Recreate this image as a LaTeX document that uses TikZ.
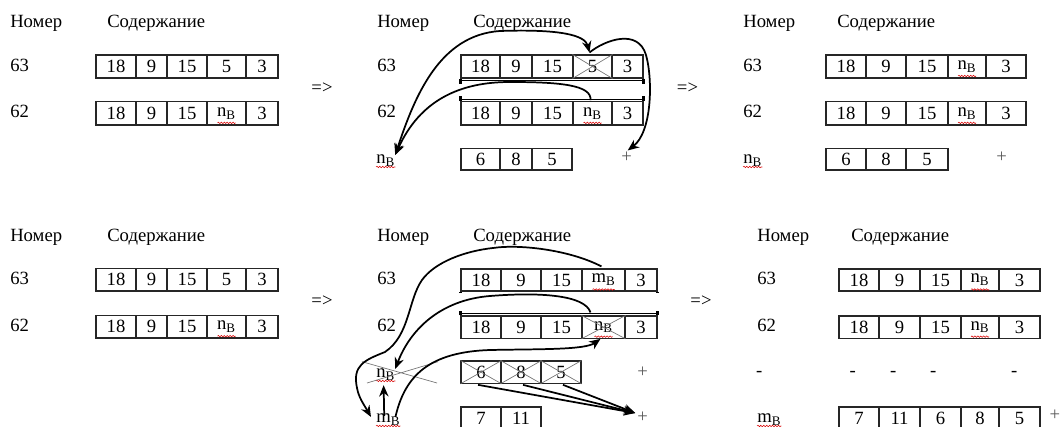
\documentclass[tikz,border=0pt]{standalone}
\usepackage{fontspec}
\setmainfont{Liberation Serif}
\usetikzlibrary{arrows.meta,decorations.pathmorphing,calc}

\newcommand\nB{n\textsubscript{B}}
\newcommand\mB{m\textsubscript{B}}
\newcommand\fs{\fontsize{14pt}{16pt}\selectfont}

\tikzset{
  lbl/.style={inner sep=0pt, anchor=base west, font=\fs},
  dsh/.style={inner sep=0pt, anchor=base, font=\fs},
  goes/.style={inner sep=0pt, anchor=center, font=\fs},
  pls/.style={inner sep=0pt, anchor=center, font=\fs, text=black!65},
  cell/.style={draw=black!85, line width=0.8pt, inner sep=0pt, font=\fs},
  xline/.style={draw=black!55, line width=0.5pt},
  conn/.style={line width=1.3pt, -{Stealth[length=8.5pt,width=7pt]}},
  conn2/.style={line width=1.3pt, {Stealth[length=8.5pt,width=7pt]}-{Stealth[length=8.5pt,width=7pt]}},
  spell/.style={draw=red!85!black, line width=0.4pt, decorate,
    decoration={snake, amplitude=0.55pt, segment length=2.2pt}},
}

% one table cell: name, left, right, top, bottom, text
\newcommand\mkcell[6]{\node[cell, minimum width={(#3-#2)*0.75pt},
  minimum height={(#5-#4)*0.75pt}] (#1) at ({(#2+#3)/2},{(#4+#5)/2}) {#6};}
% a row of cells: prefix, top, bottom, list index/left/right/text
\newcommand\tabrow[4]{\foreach \i/\xa/\xb/\t in {#4} {\mkcell{#1\i}{\xa}{\xb}{#2}{#3}{\t}}}
% cross a cell out
\newcommand\crossout[1]{\draw[xline] (#1.north west) -- (#1.south east) (#1.south west) -- (#1.north east);}
% wavy marks under a label and under cell text
\newcommand\squigl[1]{\draw[spell] ($(#1.base west)+(0,3)$) -- ($(#1.base east)+(0,3)$);}
\newcommand\squigc[2]{\draw[spell] ($(#1.center)+(-#2,9.5)$) -- ($(#1.center)+(#2,9.5)$);}

\begin{document}
\begin{tikzpicture}[x=0.75pt, y=-0.75pt]
\clip (0,0) rectangle (1064,427);
\fill[white] (0,0) rectangle (1064,427);

% ---------------- top left ----------------
\node[lbl] (tl-h1) at (10,28) {Номер};
\node[lbl] (tl-h2) at (107,28) {Содержание};
\node[lbl] (tl-n63) at (10,72) {63};
\node[lbl] (tl-n62) at (10,118) {62};
\tabrow{tl-a}{55}{78}{1/96/136/18, 2/136/167/9, 3/167/207/15, 4/207/246/5, 5/246/278/3}
\tabrow{tl-b}{101.7}{125}{1/96/136/18, 2/136/167/9, 3/167/207/15, 4/207/246/\nB, 5/246/278/3}
\squigc{tl-b4}{9}
\node[goes] (tl-go) at (322,88) {=>};

% ---------------- top middle ----------------
\node[lbl] (tm-h1) at (377,28) {Номер};
\node[lbl] (tm-h2) at (473,28) {Содержание};
\node[lbl] (tm-n63) at (377,72) {63};
\node[lbl] (tm-n62) at (377,118) {62};
\node[lbl] (tm-rn) at (376,164) {\nB};
\squigl{tm-rn}
\tabrow{tm-a}{55}{78}{1/461/500/18, 2/500/532/9, 3/532/573/15, 4/573/612/5, 5/612/643/3}
\tabrow{tm-b}{101.7}{125}{1/461/500/18, 2/500/532/9, 3/532/573/15, 4/573/612/\nB, 5/612/643/3}
\tabrow{tm-c}{148.3}{170}{1/461/500/6, 2/500/532/8, 3/532/572/5}
\squigc{tm-b4}{9}
\crossout{tm-a4}
\node[pls] (tm-plus) at (626.7,157) {+};
\node[goes] (tm-go) at (687.5,88) {=>};
% selection marks between the two rows
\draw[line width=0.6pt] ($(tm-a1.south west)+(0,1.6)$) -- ($(tm-a5.south east)+(0,1.6)$);
\draw[line width=2pt] (tm-a1.south west) -- ++(0,5) (tm-a5.south east) -- ++(0,5);
\draw[line width=0.6pt] ($(tm-b1.north west)+(0,-1.6)$) -- ($(tm-b5.north east)+(0,-1.6)$);
\draw[line width=2pt] (tm-b1.north west) -- ++(0,-5) (tm-b5.north east) -- ++(0,-5);
% pointer moves
\draw[conn2] (tm-rn.north east) .. controls (415,95) and (440,35) .. (500,31)
  .. controls (560,29) and (585,35) .. ($(tm-a4.north)+(-3,-2)$);
\draw[conn] ($(tm-b4.north)+(-2,-1)$) .. controls (592,85) and (560,82) .. (510,82)
  .. controls (460,82) and (420,100) .. (tm-rn.north east);
\draw[conn] ($(tm-a4.north)+(-3,-2)$) .. controls (605,40) and (638,28) .. (646,55)
  .. controls (653,80) and (652,132) .. ($(tm-plus.north)+(1,-1)$);

% ---------------- top right ----------------
\node[lbl] (tr-h1) at (743,28) {Номер};
\node[lbl] (tr-h2) at (837,28) {Содержание};
\node[lbl] (tr-n63) at (743,72) {63};
\node[lbl] (tr-n62) at (743,118) {62};
\node[lbl] (tr-rn) at (743,164) {\nB};
\squigl{tr-rn}
\tabrow{tr-a}{55}{78}{1/826/866/18, 2/866/906/9, 3/906/948/15, 4/948/986/\nB, 5/986/1026/3}
\tabrow{tr-b}{101.7}{125}{1/826/866/18, 2/866/906/9, 3/906/948/15, 4/948/986/\nB, 5/986/1026/3}
\tabrow{tr-c}{148.3}{170}{1/826/866/6, 2/866/906/8, 3/906/948/5}
\squigc{tr-a4}{9}
\squigc{tr-b4}{9}
\node[pls] (tr-plus) at (1001.7,157) {+};

% ---------------- bottom left ----------------
\node[lbl] (bl-h1) at (10,242) {Номер};
\node[lbl] (bl-h2) at (107,242) {Содержание};
\node[lbl] (bl-n63) at (10,285) {63};
\node[lbl] (bl-n62) at (10,332) {62};
\tabrow{bl-a}{268.3}{291}{1/96/136/18, 2/136/167/9, 3/167/207/15, 4/207/246/5, 5/246/278/3}
\tabrow{bl-b}{315.3}{338}{1/96/136/18, 2/136/167/9, 3/167/207/15, 4/207/246/\nB, 5/246/278/3}
\squigc{bl-b4}{9}
\node[goes] (bl-go) at (322,301) {=>};

% ---------------- bottom middle ----------------
\node[lbl] (bm-h1) at (377,242) {Номер};
\node[lbl] (bm-h2) at (473,242) {Содержание};
\node[lbl] (bm-n63) at (377,285) {63};
\node[lbl] (bm-n62) at (377,332) {62};
\node[lbl] (bm-rn) at (376,378) {\nB};
\node[lbl] (bm-rm) at (376,423) {\mB};
\squigl{bm-rn}
\squigl{bm-rm}
\tabrow{bm-a}{269}{291}{1/461/501/18, 2/501/541/9, 3/541/582/15, 4/582/625/\mB, 5/625/657/3}
\tabrow{bm-b}{316}{338.3}{1/461/501/18, 2/501/541/9, 3/541/582/15, 4/582/625/\nB, 5/625/657/3}
\tabrow{bm-c}{361}{383.3}{1/461/501/6, 2/501/541/8, 3/541/581/5}
\tabrow{bm-d}{407}{430}{1/461/501/7, 2/501/541/11}
\squigc{bm-a4}{11}
\squigc{bm-b4}{9}
\crossout{bm-b4}
\crossout{bm-c1}
\crossout{bm-c2}
\crossout{bm-c3}
\draw[xline] ($(bm-rn.base west)+(-14,-16.3)$) -- ($(bm-rn.base west)+(61,5)$)
             ($(bm-rn.base west)+(-9,5)$) -- ($(bm-rn.base west)+(62,-16.3)$);
\node[pls] (bm-p1) at (642.7,372) {+};
\node[pls] (bm-p2) at (642.7,417) {+};
\node[goes] (bm-go) at (701,301) {=>};
% marks at the row edges
\draw[line width=1.6pt] (bm-a1.south west) -- ++(0,1.5) (bm-a5.south east) -- ++(0,1.5);
\draw[line width=0.6pt] ($(bm-b1.north west)+(0,-2)$) -- ($(bm-b5.north east)+(0,-2)$);
\draw[line width=2pt] (bm-b1.north west) -- ++(0,-4.5) (bm-b5.north east) -- ++(0,-4.5);
% pointer moves
\draw[conn] ($(bm-a4.north)+(-2,-2)$) .. controls (570,250) and (520,244) .. (493,248)
  .. controls (465,251) and (435,262) .. (422,280)
  .. controls (408,300) and (410,335) .. (385,352)
  .. controls (365,360) and (352,365) .. (357,388)
  .. controls (359,398) and (363,403) .. ($(bm-rm.north west)+(-5,3)$);
\draw[conn] ($(bm-b4.north)+(-13,-3)$) .. controls (585,295) and (540,292) .. (490,296)
  .. controls (440,300) and (410,330) .. (bm-rn.north east);
\draw[conn] ($(bm-rm.north east)+(-5,3)$) .. controls (405,375) and (430,352) .. (490,350)
  .. controls (540,349) and (585,350) .. ($(bm-b4.south)+(-3,0)$);
\draw[conn] ($(bm-rm.north)+(-4,2)$) -- ($(bm-rn.south)+(-2,4)$);
\draw[conn] ($(bm-c1.south)+(-3,1)$) -- ($(bm-p2.west)+(-2,-4)$);
\draw[conn] ($(bm-c2.south)+(2,1)$) -- ($(bm-p2.west)+(-2,-4)$);
\draw[conn] ($(bm-c3.south)+(2,1)$) -- ($(bm-p2.west)+(-2,-4)$);

% ---------------- bottom right ----------------
\node[lbl] (br-h1) at (757,242) {Номер};
\node[lbl] (br-h2) at (851,242) {Содержание};
\node[lbl] (br-n63) at (757,285) {63};
\node[lbl] (br-n62) at (757,332) {62};
\node[dsh] (br-e0) at (759.3,377) {-};
\node[dsh] (br-e1) at (852.7,377) {-};
\node[dsh] (br-e2) at (893.3,377) {-};
\node[dsh] (br-e3) at (933.3,377) {-};
\node[dsh] (br-e5) at (1014.3,377) {-};
\node[lbl] (br-rm) at (757,423) {\mB};
\squigl{br-rm}
\tabrow{br-a}{269}{291}{1/839/879/18, 2/879/920/9, 3/920/961/15, 4/961/999/\nB, 5/999/1040/3}
\tabrow{br-b}{316}{338.3}{1/839/879/18, 2/879/920/9, 3/920/961/15, 4/961/999/\nB, 5/999/1040/3}
\tabrow{br-d}{407}{430}{1/839/879/7, 2/879/920/11, 3/920/961/6, 4/961/999/8, 5/999/1040/5}
\squigc{br-a4}{9}
\squigc{br-b4}{9}
\node[pls] (br-plus) at (1055,415) {+};
\end{tikzpicture}
\end{document}
